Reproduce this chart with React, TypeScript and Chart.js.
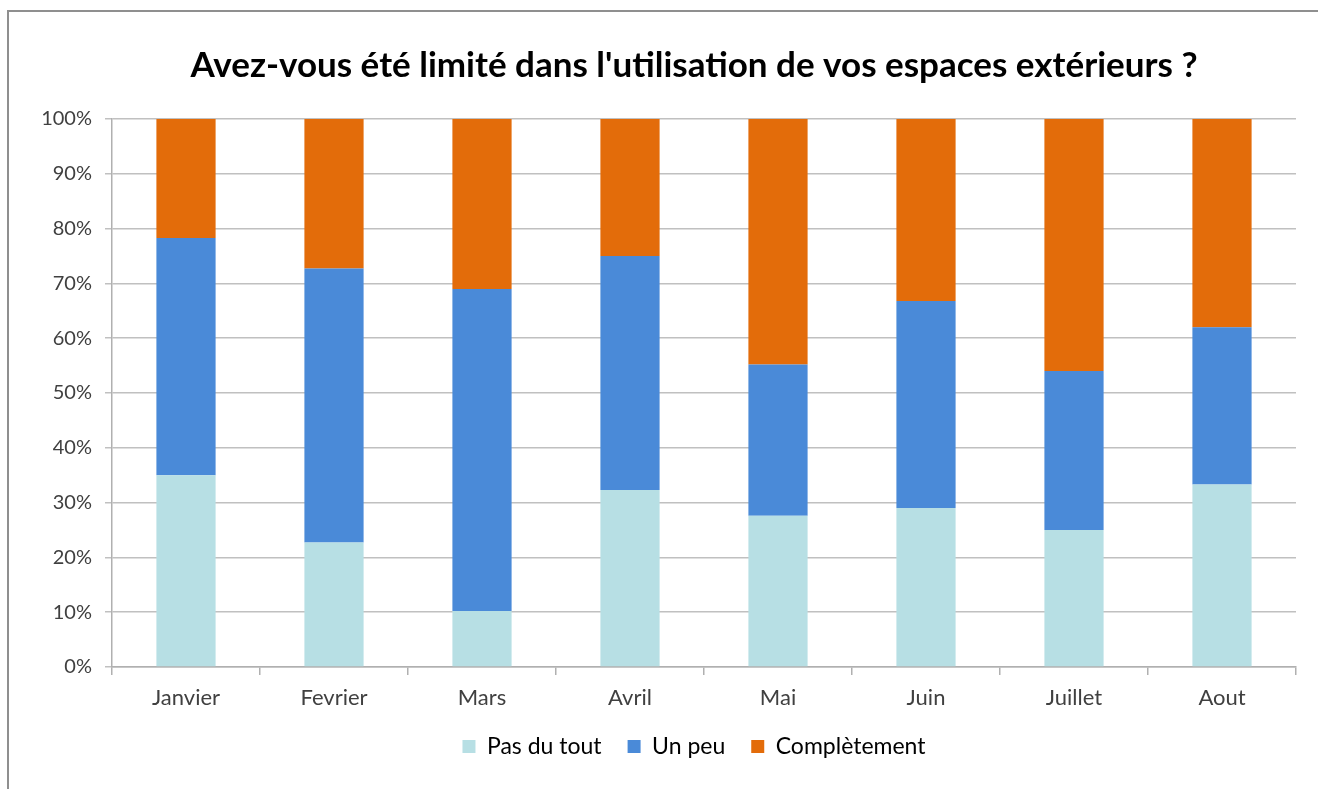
import React, { useEffect, useRef } from "react";
import { Chart, registerables } from "chart.js";

Chart.register(...registerables);

const categories = ["Janvier", "Fevrier", "Mars", "Avril", "Mai", "Juin", "Juillet", "Aout"];
const pasDuTout = [35, 22.7, 10.2, 32.3, 27.6, 29, 25, 33.3];
const unPeu = [43.3, 50, 58.8, 42.7, 27.6, 37.8, 29, 28.7];
const completement = [21.7, 27.3, 31, 25, 44.8, 33.2, 46, 38];
const yTicks = [0, 10, 20, 30, 40, 50, 60, 70, 80, 90, 100];

const FONT = "Lato, 'Open Sans', sans-serif";

export default function App() {
  const ref = useRef<HTMLCanvasElement>(null);
  useEffect(() => {
    if (!ref.current) return;
    const chart = new Chart(ref.current, {
      type: "bar",
      data: {
        labels: categories,
        datasets: [
          { label: "Pas du tout", data: pasDuTout, backgroundColor: "#B7DFE4", barPercentage: 0.4, categoryPercentage: 1 },
          { label: "Un peu", data: unPeu, backgroundColor: "#4A8AD8", barPercentage: 0.4, categoryPercentage: 1 },
          { label: "Complètement", data: completement, backgroundColor: "#E36C0A", barPercentage: 0.4, categoryPercentage: 1 },
        ],
      },
      options: {
        responsive: false,
        animation: false,
        layout: { padding: { top: 0, left: 0, right: 0, bottom: 21 } },
        plugins: {
          tooltip: { enabled: false },
          title: {
            display: true,
            text: "Avez-vous été limité dans l'utilisation de vos espaces extérieurs ?",
            color: "#000000",
            font: { family: FONT, size: 35, weight: "bold" },
            padding: { top: 45, bottom: 32 },
          },
          legend: {
            position: "bottom",
            labels: {
              color: "#000000",
              font: { family: FONT, size: 23 },
              boxWidth: 13,
              boxHeight: 13,
              padding: 26,
            },
          },
        },
        scales: {
          x: {
            stacked: true,
            afterFit: (scale: any) => { scale.height = 42; },
            grid: { drawOnChartArea: false, drawTicks: true, tickLength: 8, color: "#B0B0B0", lineWidth: 1.5, offset: true },
            border: { color: "#B0B0B0", width: 1.5 },
            ticks: { color: "#404040", font: { family: FONT, size: 22, lineHeight: 1 }, padding: 12 },
          },
          y: {
            stacked: true,
            min: 0,
            max: 100,
            afterFit: (scale: any) => { scale.width = 112; },
            afterBuildTicks: (scale: any) => { scale.ticks = yTicks.map((v) => ({ value: v })); },
            grid: { color: "#C0C0C0", lineWidth: 1.5, tickLength: 7 },
            border: { color: "#B0B0B0", width: 1.5 },
            ticks: {
              color: "#404040",
              font: { family: FONT, size: 20 },
              padding: 13,
              callback: (v: any) => v + "%",
            },
          },
          spacer: {
            type: "linear",
            position: "right",
            afterFit: (scale: any) => { scale.width = 92; },
            grid: { display: false, drawOnChartArea: false },
            border: { display: false },
            ticks: { display: false },
          },
        },
      },
    });
    return () => chart.destroy();
  }, []);
  return (
    <div style={{ position: "absolute", left: 0, top: 0, width: 1318, height: 789, overflow: "hidden", background: "#fff" }}>
      <div style={{ position: "absolute", left: 7, top: 10, width: 1400, height: 1000, borderTop: "2px solid #8f8f8f", borderLeft: "2px solid #8f8f8f" }} />
      <canvas ref={ref} width={1388} height={789} style={{ position: "absolute", left: 0, top: 0, width: 1388, height: 789 }} />
    </div>
  );
}
